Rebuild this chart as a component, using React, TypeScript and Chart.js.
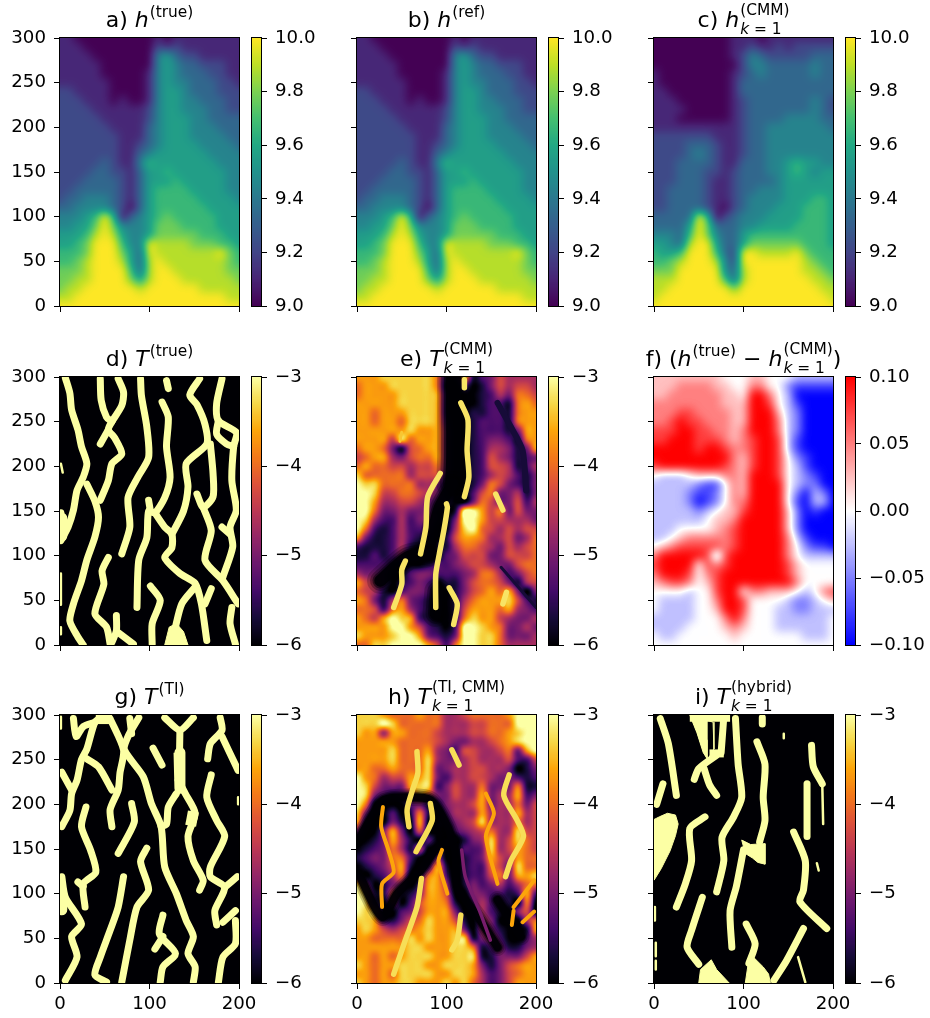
import React, { useEffect, useRef } from "react";
import Chart from "chart.js/auto";

// ---------- fields: rows run from y=300 down to y=0, columns x=0..200, every 10 units ----------
const H_TRUE_ROWS = [
"1 1 0 0 0 0 0 0 0 0 0 1 0 1 1 1 1 1 1 1 1",
"1 1 1 0 0 0 0 0 0 0 0 2 1 2 1 1 1 1 1 1 1",
"1 1 1 1 0 0 0 0 0 0 0 4 5 3 2 2 1 1 1 1 1",
"1 1 1 1 1 0 0 0 0 0 0 4 5 4 3 3 2 2 2 1 1",
"1 1 1 1 1 0 0 0 0 0 1 4 5 4 3 3 3 2 2 1 1",
"1 1 1 1 1 1 0 0 0 0 1 4 5 4 4 3 3 3 2 2 1",
"2 2 1 1 1 1 0 0 0 0 1 4 5 5 4 3 3 3 2 2 2",
"2 2 2 1 1 1 0 1 0 0 1 4 5 5 4 4 3 3 3 2 2",
"2 2 2 2 1 1 1 1 1 1 2 4 5 5 4 4 4 3 3 2 2",
"2 2 2 2 2 1 1 1 1 1 2 4 5 5 5 4 4 3 3 3 3",
"2 2 2 2 2 2 1 1 1 1 3 4 5 5 5 4 4 4 3 3 3",
"2 2 2 2 2 2 2 1 1 1 3 4 5 5 5 4 4 4 4 3 3",
"2 2 2 2 2 2 2 1 1 2 3 4 5 5 5 5 4 4 4 4 3",
"2 2 2 2 2 2 2 1 1 3 4 5 5 5 5 5 5 4 4 4 4",
"2 2 2 2 2 3 2 1 1 4 6 5 5 5 5 5 5 5 4 4 4",
"2 2 2 2 3 3 2 2 1 3 5 5 6 5 5 5 5 5 5 4 4",
"2 2 2 3 3 3 3 2 1 3 5 5 5 6 5 5 5 5 5 4 4",
"2 2 3 3 3 3 3 2 1 3 5 6 6 6 6 5 5 5 5 4 4",
"2 3 3 4 4 4 3 2 1 3 5 6 6 6 6 6 5 5 5 5 4",
"3 3 4 4 4 4 3 2 0 3 5 6 6 6 6 6 6 5 5 5 5",
"4 4 4 5 6 9 6 0 3 4 5 6 7 6 6 6 6 6 5 5 5",
"4 4 5 5 7 9 7 4 4 4 5 7 7 7 6 6 6 6 5 5 5",
"5 5 5 6 8 9 8 5 4 4 5 7 7 7 7 7 6 6 6 5 5",
"5 5 6 7 9 9 9 6 4 4 9 8 8 8 8 7 7 7 6 6 5",
"6 6 6 7 9 9 9 7 5 3 9 8 8 8 8 8 8 8 9 7 6",
"6 6 7 8 9 9 9 8 5 3 8 9 8 8 8 8 8 8 8 7 6",
"7 7 7 8 9 9 9 9 6 3 8 9 9 8 8 8 8 8 8 7 7",
"7 7 8 8 9 9 9 9 7 5 8 9 9 9 8 8 8 8 8 8 7",
"7 8 8 9 9 9 9 9 9 8 9 9 9 9 9 9 8 8 8 8 8",
"8 8 9 9 9 9 9 9 9 9 9 9 9 9 9 9 9 9 9 8 8",
"9 9 9 9 9 9 9 9 9 9 9 9 9 9 9 9 9 9 9 9 9",
];
const H_REF_ROWS = H_TRUE_ROWS;
const H_CMM_ROWS = [
"0 0 0 0 0 0 0 0 0 1 1 1 0 1 1 1 1 1 1 1 1",
"0 0 0 0 0 0 0 0 0 1 1 2 1 1 2 1 2 2 2 2 2",
"0 0 0 0 0 0 0 0 0 1 2 4 3 2 2 2 2 2 3 3 3",
"0 0 0 0 0 0 0 0 0 0 2 4 4 3 3 3 3 3 4 3 3",
"1 0 0 0 0 0 0 0 0 1 2 3 4 3 3 3 3 3 4 3 3",
"1 0 0 0 0 0 0 0 0 1 3 3 3 3 3 3 3 3 3 3 3",
"1 1 0 0 0 0 0 0 0 1 3 3 3 3 3 3 3 3 3 3 3",
"1 1 1 0 0 0 0 0 0 1 2 3 3 3 3 3 3 3 4 3 2",
"1 1 1 1 0 0 0 0 0 1 2 3 3 3 3 3 3 3 4 3 2",
"1 1 1 0 0 0 0 0 0 1 2 3 3 3 3 4 4 4 4 3 3",
"1 1 1 1 1 1 1 1 1 1 2 3 3 4 4 4 4 4 4 4 3",
"2 2 2 2 2 2 2 1 1 1 2 3 3 4 4 4 4 4 4 4 4",
"2 2 2 2 3 3 3 2 1 1 2 3 3 4 4 4 4 4 4 4 4",
"2 2 2 2 3 4 3 2 1 1 2 3 3 4 4 4 4 4 4 4 4",
"2 2 2 3 3 3 3 2 1 1 3 3 3 4 4 5 6 5 5 4 4",
"2 2 2 3 3 3 2 2 1 2 3 3 3 4 4 5 6 5 4 5 5",
"2 2 2 3 3 3 2 1 1 2 3 3 3 3 4 5 5 5 5 5 5",
"2 2 3 3 3 3 2 1 1 2 3 3 4 4 4 5 5 5 5 5 5",
"2 2 3 3 3 3 2 1 1 2 3 4 4 4 4 5 5 5 6 6 5",
"2 2 3 3 3 3 2 1 0 2 3 4 4 4 5 5 5 6 6 6 5",
"3 3 3 3 3 9 6 0 2 3 4 4 4 5 5 5 5 6 6 6 5",
"3 3 3 3 5 9 7 3 3 3 4 4 5 5 5 5 6 6 6 6 5",
"4 4 4 3 6 9 7 4 3 3 5 6 6 6 6 6 6 6 6 6 5",
"5 5 4 3 8 9 9 5 3 3 5 7 7 7 7 7 7 6 6 6 5",
"6 5 5 6 9 9 9 6 3 2 9 9 8 8 8 8 9 7 6 6 6",
"6 6 7 8 9 9 9 8 4 2 9 9 9 9 9 9 9 8 7 6 6",
"7 7 7 9 9 9 9 9 4 3 8 9 9 9 9 9 9 8 8 7 6",
"8 8 8 9 9 9 9 9 6 3 8 9 9 9 9 9 9 9 8 8 7",
"8 8 9 9 9 9 9 9 9 7 9 9 9 9 9 9 9 9 9 8 8",
"8 9 9 9 9 9 9 9 9 9 9 9 9 9 9 9 9 9 9 9 8",
"9 9 9 9 9 9 9 9 9 9 9 9 9 9 9 9 9 9 9 9 9",
];
const T_CMM_ROWS = [
"7 7 7 8 8 8 8 8 8 6 1 1 8 1 2 3 5 4 4 4 4",
"6 7 7 7 8 8 8 8 8 6 0 0 2 0 1 3 5 4 5 5 4",
"6 7 7 7 7 8 8 8 8 7 1 0 0 0 1 2 4 3 6 6 5",
"7 7 7 7 7 8 8 8 8 7 1 0 0 0 1 2 2 1 6 7 6",
"7 7 6 7 7 7 8 8 8 7 1 0 0 1 1 2 2 1 6 7 7",
"7 7 6 7 7 6 8 8 8 7 2 0 0 1 2 2 2 1 6 7 7",
"7 7 7 7 7 7 8 7 7 7 3 0 0 1 2 2 2 1 3 7 7",
"7 7 7 7 5 8 6 7 7 7 3 0 0 1 2 3 3 2 1 6 7",
"6 7 7 6 3 1 5 6 7 7 3 0 0 1 2 4 4 3 1 3 7",
"5 6 7 7 4 3 5 6 6 7 3 0 0 1 2 5 4 3 1 2 3",
"6 7 6 6 5 5 4 5 5 6 3 0 0 1 2 5 5 4 1 2 4",
"8 6 6 6 6 6 4 5 5 5 2 0 0 1 2 4 5 4 2 1 3",
"9 8 8 6 6 6 6 4 4 3 1 0 0 1 3 6 5 3 2 1 3",
"9 9 8 5 5 6 6 5 4 3 1 0 0 2 5 6 3 3 4 1 3",
"9 9 7 4 4 5 5 4 3 2 1 0 0 3 6 5 3 3 5 2 4",
"9 9 6 3 3 4 3 3 3 1 0 1 9 9 7 5 6 3 5 3 3",
"9 8 4 2 2 4 2 3 3 1 0 3 9 9 7 5 5 4 4 4 3",
"9 6 2 1 2 4 2 2 2 0 0 4 8 9 6 5 4 5 4 5 5",
"7 3 1 1 2 4 2 1 1 0 1 5 7 7 6 4 4 5 3 4 6",
"2 1 1 1 2 4 1 0 0 1 1 4 6 6 5 4 3 5 4 5 6",
"1 1 2 1 2 3 0 0 0 0 2 3 5 5 5 3 3 5 5 5 6",
"2 2 2 2 1 0 0 0 1 2 2 3 4 5 5 4 3 3 5 6 6",
"4 3 3 2 0 0 2 3 3 2 2 2 3 4 6 6 4 2 3 5 6",
"7 5 4 2 0 1 2 3 2 0 1 1 3 5 6 6 5 3 1 4 5",
"6 5 4 1 0 2 3 3 2 0 0 1 3 5 6 7 6 7 3 0 3",
"7 6 3 1 4 6 3 2 1 0 0 1 4 6 7 7 7 8 5 2 1",
"6 6 5 2 6 7 4 2 1 0 0 1 5 7 7 7 6 7 4 3 2",
"7 6 5 7 9 8 7 2 1 0 0 1 6 8 7 7 5 4 3 3 4",
"7 7 7 7 9 9 7 5 2 1 0 2 9 9 8 7 6 3 3 4 3",
"8 7 7 7 8 9 9 7 3 2 1 3 9 9 8 8 6 3 3 3 4",
"6 6 8 8 9 9 9 9 7 5 2 6 9 9 8 8 6 4 4 4 4",
];
const H_DIFF_ROWS = [
"5 5 5 5 5 5 5 5 4 4 4 5 5 4 4 4 3 3 3 3 3",
"5 5 5 6 6 6 6 5 5 4 4 6 6 4 4 2 1 1 1 1 1",
"5 5 6 6 6 6 6 6 5 5 4 8 8 6 4 3 0 0 0 0 0",
"6 6 6 6 6 6 6 6 5 5 5 8 8 7 4 3 1 0 0 0 0",
"6 6 6 7 7 6 6 6 6 5 5 8 8 8 5 3 2 0 0 0 0",
"6 6 7 8 7 7 6 6 6 5 5 8 8 8 6 3 2 0 0 0 0",
"7 7 7 8 8 7 7 6 6 5 6 8 8 8 6 3 2 0 0 0 0",
"7 7 8 8 8 7 7 7 6 5 6 7 8 8 7 3 1 0 0 0 0",
"8 8 8 8 8 7 8 8 7 6 6 7 8 8 7 3 1 0 0 0 0",
"8 8 8 8 8 8 8 8 8 6 5 7 8 8 7 4 2 1 0 0 0",
"7 8 8 8 8 8 8 8 7 6 5 7 8 8 7 4 3 1 0 0 0",
"4 3 3 3 4 5 5 5 6 6 5 8 8 8 7 4 3 2 1 0 0",
"3 3 3 3 3 2 1 1 4 6 5 8 8 8 8 4 3 2 2 0 0",
"3 3 3 3 2 1 1 2 4 6 5 8 8 8 8 4 2 0 3 2 0",
"3 3 3 3 2 0 1 2 4 6 6 8 8 8 8 4 1 0 3 3 0",
"3 3 3 3 3 2 3 4 5 5 7 8 8 8 8 5 2 0 1 0 0",
"3 3 3 3 3 3 4 5 5 6 8 8 8 8 8 5 2 0 0 0 0",
"3 3 3 4 4 4 4 5 6 7 8 8 8 8 8 5 2 0 0 0 0",
"3 3 4 5 6 6 6 6 6 7 8 8 8 8 8 6 3 1 0 0 0",
"4 5 6 7 7 7 7 7 6 7 8 8 8 8 8 6 4 2 1 1 0",
"6 8 8 8 8 8 7 2 7 8 8 8 8 8 8 6 4 3 3 3 3",
"7 8 8 8 8 4 7 6 7 8 8 8 8 8 8 7 5 4 4 4 4",
"6 8 8 8 7 4 6 7 8 8 8 8 8 8 8 7 5 4 4 4 4",
"5 6 7 7 6 4 5 7 8 8 8 8 8 8 8 8 6 4 4 4 4",
"4 4 4 4 3 4 4 7 8 8 4 6 6 5 5 5 4 3 4 6 7",
"4 3 3 3 3 4 4 6 8 8 7 4 4 4 4 3 2 2 3 4 5",
"4 3 3 3 3 4 4 5 8 8 7 4 4 4 3 3 2 2 3 3 3",
"3 3 3 3 3 4 4 4 6 8 6 4 4 4 3 3 3 3 3 3 4",
"3 3 3 3 4 4 4 4 5 6 5 4 4 4 3 3 3 3 3 3 4",
"4 3 3 4 4 4 4 4 4 5 4 4 4 4 4 4 4 3 3 3 4",
"4 4 4 4 4 4 4 4 4 4 4 4 4 4 4 4 4 4 4 4 4",
];
const T_TI_CMM_ROWS = [
"8 8 8 7 6 6 6 7 6 6 4 4 5 6 6 6 6 7 9 9 9",
"8 8 8 9 8 6 6 6 6 6 4 4 4 5 5 6 6 6 9 9 9",
"8 7 7 4 7 7 6 6 6 5 4 4 4 5 5 6 6 7 8 9 9",
"7 7 7 7 7 6 6 6 6 5 4 3 3 4 4 5 6 7 8 9 9",
"7 7 7 7 8 6 6 6 7 4 3 2 5 5 4 4 5 6 3 7 9",
"7 7 7 7 8 6 6 6 8 4 3 3 4 5 4 4 4 5 2 2 5",
"7 7 6 6 7 6 6 6 8 3 3 4 4 5 5 4 4 3 0 1 3",
"9 7 6 4 5 5 7 7 8 3 2 4 4 5 5 4 3 3 2 1 2",
"9 8 5 3 3 3 7 8 8 2 3 5 4 4 6 3 3 3 6 1 1",
"9 8 3 2 1 2 4 7 5 3 3 5 4 4 7 3 4 4 7 2 3",
"9 6 0 0 0 0 2 3 1 1 3 4 4 5 7 3 4 4 6 3 5",
"8 3 0 0 2 0 1 6 1 0 2 4 4 4 7 4 4 4 7 4 5",
"7 1 0 0 3 1 0 7 0 0 1 3 4 5 8 4 4 4 6 4 5",
"3 0 0 3 7 3 0 5 0 0 0 2 3 4 5 6 4 4 8 5 5",
"0 0 1 3 7 4 1 0 2 0 0 0 1 3 4 8 4 5 8 6 5",
"0 1 2 3 6 4 1 4 0 1 0 0 2 2 3 8 4 5 7 6 5",
"1 2 3 3 6 6 2 0 0 3 0 0 1 2 3 7 5 4 7 6 6",
"0 1 2 3 5 7 1 0 2 7 1 0 1 2 2 6 5 3 8 6 6",
"2 0 1 2 4 6 0 1 6 7 2 0 1 2 2 5 6 3 7 7 8",
"8 4 0 1 3 3 0 2 7 7 4 0 1 3 2 3 4 2 4 6 6",
"9 7 1 1 5 1 1 3 7 7 5 0 0 3 3 2 2 1 2 7 2",
"9 8 2 0 4 0 2 5 7 7 6 1 0 2 4 2 1 1 0 6 0",
"9 8 7 0 0 2 3 5 7 7 7 3 0 1 4 2 1 0 3 5 0",
"8 8 7 2 1 3 5 6 8 7 7 5 1 0 4 3 0 0 0 4 6",
"7 8 7 5 4 5 6 7 8 7 7 7 3 0 4 3 1 0 0 1 7",
"7 7 6 6 6 6 8 7 8 7 7 8 8 1 3 4 2 0 0 2 4",
"7 7 7 7 7 7 8 8 7 7 7 8 8 6 1 2 3 1 1 3 4",
"7 7 6 7 6 7 8 8 8 7 7 8 8 8 1 1 3 3 3 5 7",
"8 7 6 7 7 8 8 8 7 7 8 8 8 7 3 1 3 5 6 7 7",
"7 7 6 7 6 8 8 8 8 7 7 8 8 7 4 2 3 5 6 7 7",
"8 7 6 7 7 8 8 7 7 7 8 7 8 6 4 2 3 5 7 7 7",
];

// ---------- channels, polylines of [x, y] ----------
const D_MAIN = [
[[6,299],[11,282],[13,263],[20,241],[24,222],[30,203],[26,188],[19,173],[15,151],[9,132],[1,117]],
[[1,148],[3,135],[1,120]],
[[30,180],[39,161],[43,143],[39,121],[30,95],[24,72],[15,46],[11,27],[20,9],[26,0]],
[[45,162],[54,184],[58,203],[69,214],[61,232],[54,241],[58,250],[69,268],[71,283],[65,298]],
[[45,298],[46,274],[52,255],[58,250]],
[[54,241],[45,225]],
[[90,298],[91,279],[97,244],[99,210],[87,188],[76,165],[78,132],[69,102]],
[[114,272],[121,255],[119,222],[123,188],[117,165],[106,148],[99,150],[97,120],[88,95],[86,42]],
[[99,162],[101,150]],
[[119,296],[121,287]],
[[106,148],[117,132],[125,124],[125,109],[117,98],[134,80],[151,69],[158,46],[164,5]],
[[151,65],[136,46],[128,16]],
[[169,63],[162,46]],
[[125,124],[138,150],[143,177],[141,203],[164,225],[162,247],[153,269],[145,280],[156,298]],
[[168,225],[171,192],[171,166],[160,154],[153,169]],
[[160,154],[169,128],[162,95],[182,72],[199,46]],
[[181,298],[175,270],[177,251],[197,238],[194,222],[192,184],[197,151],[190,132],[193,110],[182,76]],
[[181,132],[190,124]],
[[177,251],[175,236],[186,225],[194,222]],
[[54,98],[47,83],[49,68],[39,35],[52,20],[56,1]],
[[63,33],[63,16],[58,3]],
[[65,14],[82,1]],
[[101,66],[112,50],[103,24],[103,1]],
[[192,42],[190,24],[196,1]],
];
const D_BASE_UPPER = [[117,0],[122,20],[130,24],[138,15],[143,0]];
const D_BASE_LOWER = [[117,0],[143,0]];
const D_WIDE = [[[2,142],[2,122]]];
const D_THIN = [[[1,203],[3,193]], [[1,20],[1,12]], [[1,80],[1,45]]];

const G_MAIN = [
[[15,296],[18,276],[26,287],[39,292]],
[[47,298],[39,292],[30,262],[24,250],[19,227],[13,212],[11,193],[2,175]],
[[56,296],[71,261],[67,235],[65,216],[56,194],[58,175]],
[[30,251],[43,242],[58,216]],
[[2,236],[13,216]],
[[88,297],[76,276],[72,261],[93,231],[102,201],[113,175],[117,130],[130,100],[141,70],[149,52],[143,33],[151,18],[149,1]],
[[78,296],[80,279]],
[[104,263],[114,244]],
[[117,297],[134,283],[149,297]],
[[134,283],[133,227]],
[[132,227],[140,212],[151,190],[143,164],[149,137],[160,115],[156,104]],
[[130,212],[121,197],[119,178],[113,175]],
[[179,297],[181,283],[168,268],[165,251]],
[[181,276],[199,238]],
[[169,233],[164,208],[175,182],[184,164],[168,130],[168,119],[184,107],[173,81],[175,65]],
[[184,107],[198,119]],
[[182,68],[196,81]],
[[196,70],[196,44],[182,29],[177,1]],
[[29,197],[24,175],[34,149],[40,124],[26,111],[28,85]],
[[20,113],[26,108]],
[[80,201],[83,180],[65,145]],
[[97,151],[90,136],[99,104],[86,85],[78,48],[69,1]],
[[71,119],[65,85],[56,59],[45,29],[39,9],[52,1]],
[[2,119],[6,96],[24,66],[13,52],[19,29],[6,3]],
[[115,76],[111,55],[129,33],[115,18],[112,1]],
[[106,38],[115,52]],
];
const G_WIDE = [[[40,296],[58,296]], [[133,258],[134,218]], [[149,192],[146,176]], [[2,100],[2,82]]];
const G_THIN = [[[1,298],[1,285]], [[199,208],[199,200]]];

const I_MAIN = [
[[7,296],[16,268],[25,210]],
[[78,298],[75,258]],
[[70,255],[50,240],[45,228]],
[[56,240],[62,222],[70,210]],
[[91,296],[94,245],[98,208],[89,186],[76,163],[78,137],[70,102]],
[[115,270],[124,245],[122,208],[124,182],[118,158]],
[[100,149],[92,108],[85,81],[87,40]],
[[176,266],[178,242],[188,223]],
[[171,223],[171,164]],
[[156,169],[169,137],[167,104],[163,91],[193,61]],
[[57,186],[40,173],[42,137],[35,111],[25,85]],
[[10,223],[3,200]],
[[54,96],[42,59],[37,40],[50,21]],
[[103,66],[113,44],[106,22]],
[[134,3],[148,25],[167,61]],
[[121,297],[121,290]],
];
const I_WIDE = [[[40,297],[85,297]], [[62,257],[78,257]]];
const I_THIN = [
[[188,223],[189,178]], [[161,29],[169,1]], [[145,279],[145,274]], [[182,134],[184,126]],
[[1,85],[1,70]], [[2,45],[2,30]], [[2,25],[2,15]],
];
const I_BLOB_UPPER = [[0,183],[6,186],[15,190],[24,188],[27,178]];
const I_BLOB_LOWER = [[0,115],[8,128],[18,148],[24,165],[27,178]];
const I_LEG_UPPER = [[40,300],[66,292],[67,262],[60,250]];
const I_LEG_LOWER = [[40,300],[48,280],[55,258],[60,250]];
const I_BLOCK_UPPER = [[98,160],[108,155],[124,156],[124,133]];
const I_BLOCK_LOWER = [[98,160],[102,145],[110,140],[116,135],[124,133]];
const I_BASE_A_UPPER = [[50,0],[52,15],[64,26],[70,15],[84,0]];
const I_BASE_A_LOWER = [[50,0],[84,0]];
const I_BASE_B_UPPER = [[102,0],[105,20],[112,28],[122,18],[128,10],[130,0]];
const I_BASE_B_LOWER = [[102,0],[130,0]];

const E_BLACK_TOP = [[[108,298],[108,248],[108,211],[107,181]]];
const E_BLACK_MID = [[[107,181],[92,154],[84,124],[80,102]]];
const E_BLACK_LOW = [[[80,102],[56,98],[26,72]], [[90,60],[88,35]]];
const E_PALE = [
[[116,271],[124,252],[123,218],[125,188],[120,166]],
[[100,158],[101,154],[97,128],[92,102],[88,79],[88,42]],
[[93,192],[79,166],[77,132],[71,102]],
[[54,94],[50,84],[50,68],[41,42]],
[[103,64],[112,46],[108,23]],
[[155,169],[163,151]],
[[167,59],[163,46]],
[[120,297],[120,288]],
];
const E_TIP = [[[48,228],[50,238]]];
const E_DARK = [[[157,271],[172,244],[185,218],[189,173]]];
const E_DARK_THIN = [[[161,87],[200,42]]];

const HT_BLACK = [
[[4,164],[19,190],[30,205],[56,208],[82,205],[101,175],[110,145],[112,108],[138,70],[157,40]],
[[2,122],[28,74],[45,100],[71,126],[90,152],[108,160]],
[[157,93],[183,52]],
];
const HT_PALE = [
[[67,259],[68,235],[62,216],[56,194],[58,175]],
[[82,201],[84,182],[66,147]],
[[72,117],[67,85],[54,48],[41,10]],
[[116,76],[112,48],[106,37]],
[[106,261],[114,244]],
[[170,233],[164,210],[179,182],[186,164],[172,137],[166,119]],
];
const HT_ORANGE = [
[[29,197],[27,175],[35,149],[41,124],[28,111],[28,85]],
[[95,149],[91,136],[101,100]],
[[144,212],[153,190],[144,164],[157,111]],
[[175,81],[173,65]],
[[198,115],[175,85]],
[[185,68],[198,80]],
];
const HT_PURPLE = [[[117,149],[121,119],[138,78],[149,48]]];

// ---------- text and ticks ----------
const TITLES = [
  [["a) ","r"],["h","i"],["(true)","sup"]],
  [["b) ","r"],["h","i"],["(ref)","sup"]],
  [["c) ","r"],["h","i"],["(CMM)","sup"],["k","subi"],[" = 1","sub"]],
  [["d) ","r"],["T","i"],["(true)","sup"]],
  [["e) ","r"],["T","i"],["(CMM)","sup"],["k","subi"],[" = 1","sub"]],
  [["f) (","r"],["h","i"],["(true)","sup"],[" \u2212 ","r"],["h","i"],["(CMM)","sup"],["k","subi"],[" = 1","sub"],[")","r"]],
  [["g) ","r"],["T","i"],["(TI)","sup"]],
  [["h) ","r"],["T","i"],["(TI, CMM)","sup"],["k","subi"],[" = 1","sub"]],
  [["i) ","r"],["T","i"],["(hybrid)","sup"],["k","subi"],[" = 1","sub"]],
];
const H_TICKS = { min: 9, max: 10, step: 0.2, digits: 1 };
const T_TICKS = { min: -6, max: -3, step: 1, digits: 0 };
const D_TICKS = { min: -0.1, max: 0.1, step: 0.05, digits: 2 };

// ---------- colour maps ----------
const VIRIDIS = ["#440154","#482475","#414487","#355f8d","#2a788e","#21918c","#22a884","#44bf70","#7ad151","#bddf26","#fde725"];
const INFERNO = ["#000004","#160b39","#420a68","#6a176e","#932667","#bb3754","#dd513a","#f37819","#fca50a","#f6d746","#fcffa4"];
const BWR = ["#0000ff","#ffffff","#ff0000"];
const hex = (s: string) => [1, 3, 5].map((i) => parseInt(s.slice(i, i + 2), 16));
const makeLut = (stops: string[]) => {
  const rgb = stops.map(hex);
  const lut: number[][] = [];
  for (let i = 0; i < 256; i++) {
    const t = (i / 255) * (rgb.length - 1);
    const a = Math.min(Math.floor(t), rgb.length - 2);
    const f = t - a;
    lut.push([0, 1, 2].map((k) => Math.round(rgb[a][k] + (rgb[a + 1][k] - rgb[a][k]) * f)));
  }
  return lut;
};
const LUTS: Record<string, number[][]> = { viridis: makeLut(VIRIDIS), inferno: makeLut(INFERNO), bwr: makeLut(BWR) };
const lutAt = (lut: number[][], v: number, min: number, max: number) =>
  lut[Math.max(0, Math.min(255, Math.round(((v - min) / (max - min)) * 255)))];
const tColor = (v: number) => {
  const c = lutAt(LUTS.inferno, v, -6, -3);
  return `rgb(${c[0]},${c[1]},${c[2]})`;
};

// ---------- layout ----------
const COL_X = [60, 357, 654];
const ROW_Y = [38, 377, 715];
const PLOT_W = 179;
const PLOT_H = 268;
const CB_OFFSET = 192;
const CB_W = 9;
const FONT = "DejaVu Sans";
const TICK_FONT = 18.2;
const TITLE_FONT = 22;

const COLS = 21;
const ROWS = 31;
const fieldPoints = (rows: string[], min: number, max: number, top: number) => {
  const pts: { x: number; y: number; v: number }[] = [];
  rows.forEach((row, r) => {
    const cells = row.split(" ");
    for (let c = 0; c < COLS; c++) {
      const n = Number(cells[c] ?? cells[cells.length - 1]);
      pts.push({ x: c * 10, y: 300 - r * 10, v: min + ((max - min) * n) / top });
    }
  });
  return pts;
};
const lineSet = (lines: number[][][], width: number, color: string, tension = 0.25, cap = "round") =>
  lines.map((l) => ({
    type: "scatter",
    showLine: true,
    data: l.map(([x, y]) => ({ x, y })),
    borderColor: color,
    backgroundColor: color,
    borderWidth: width,
    borderCapStyle: cap,
    borderJoinStyle: "round",
    pointRadius: 0,
    tension,
    clip: 0,
  }));
const softSet = (lines: number[][][], width: number) => [
  ...lineSet(lines, width * 2.2, "rgba(0,0,4,0.2)"),
  ...lineSet(lines, width * 1.7, "rgba(0,0,4,0.3)"),
  ...lineSet(lines, width * 1.3, "rgba(0,0,4,0.5)"),
  ...lineSet(lines, width, "rgba(0,0,4,0.9)"),
];
const blobSet = (upper: number[][], lower: number[][], color: string) => [
  {
    type: "scatter", showLine: true, data: upper.map(([x, y]) => ({ x, y })), fill: "+1",
    backgroundColor: color, borderColor: color, borderWidth: 1, pointRadius: 0, clip: 0,
  },
  {
    type: "scatter", showLine: true, data: lower.map(([x, y]) => ({ x, y })),
    backgroundColor: color, borderColor: color, borderWidth: 1, pointRadius: 0, clip: 0,
  },
];
const fieldSet = (rows: string[], min: number, max: number, top = 9) => [
  { label: "field", isField: true, data: fieldPoints(rows, min, max, top), pointRadius: 0, showLine: false },
];

const PALE = tColor(-3);
const PANELS = [
  { cmap: "viridis", range: H_TICKS, sharp: false, sets: fieldSet(H_TRUE_ROWS, 9, 10) },
  { cmap: "viridis", range: H_TICKS, sharp: false, sets: fieldSet(H_REF_ROWS, 9, 10) },
  { cmap: "viridis", range: H_TICKS, sharp: false, sets: fieldSet(H_CMM_ROWS, 9, 10) },
  {
    cmap: "inferno", range: T_TICKS, sharp: true,
    sets: [
      ...blobSet(D_BASE_UPPER, D_BASE_LOWER, PALE),
      ...lineSet(D_MAIN, 7, PALE),
      ...lineSet(D_WIDE, 11, PALE, 0, "butt"),
      ...lineSet(D_THIN, 2.5, PALE, 0),
    ],
  },
  {
    cmap: "inferno", range: T_TICKS, sharp: true,
    sets: [
      ...fieldSet(T_CMM_ROWS, -6, -3),
      ...softSet(E_BLACK_TOP, 15),
      ...softSet(E_BLACK_MID, 11),
      ...softSet(E_BLACK_LOW, 12),
      ...lineSet(E_DARK, 6, tColor(-5.7)),
      ...lineSet(E_DARK_THIN, 3, tColor(-5.7), 0),
      ...lineSet(E_PALE, 5.5, tColor(-3.2)),
      ...lineSet(E_TIP, 3, tColor(-3.4), 0),
    ],
  },
  { cmap: "bwr", range: D_TICKS, sharp: false, sets: fieldSet(H_DIFF_ROWS, -0.1, 0.1, 8) },
  {
    cmap: "inferno", range: T_TICKS, sharp: true,
    sets: [...lineSet(G_MAIN, 7, PALE), ...lineSet(G_WIDE, 11, PALE, 0, "butt"), ...lineSet(G_THIN, 2.5, PALE, 0)],
  },
  {
    cmap: "inferno", range: T_TICKS, sharp: true,
    sets: [
      ...fieldSet(T_TI_CMM_ROWS, -6, -3),
      ...softSet(HT_BLACK, 8),
      ...lineSet(HT_PURPLE, 3.5, tColor(-5)),
      ...lineSet(HT_ORANGE, 4, tColor(-3.6)),
      ...lineSet(HT_PALE, 5.5, tColor(-3.25)),
    ],
  },
  {
    cmap: "inferno", range: T_TICKS, sharp: true,
    sets: [
      ...blobSet(I_BLOB_UPPER, I_BLOB_LOWER, PALE),
      ...blobSet(I_LEG_UPPER, I_LEG_LOWER, PALE),
      ...blobSet(I_BLOCK_UPPER, I_BLOCK_LOWER, PALE),
      ...blobSet(I_BASE_A_UPPER, I_BASE_A_LOWER, PALE),
      ...blobSet(I_BASE_B_UPPER, I_BASE_B_LOWER, PALE),
      ...lineSet(I_MAIN, 7, PALE),
      ...lineSet(I_WIDE, 8, PALE, 0, "butt"),
      ...lineSet(I_THIN, 2.5, PALE, 0),
    ],
  },
];

// ---------- plugins ----------
const bspline = (t: number) => {
  const t2 = t * t;
  const t3 = t2 * t;
  return [(1 - 3 * t + 3 * t2 - t3) / 6, (3 * t3 - 6 * t2 + 4) / 6, (-3 * t3 + 3 * t2 + 3 * t + 1) / 6, t3 / 6];
};
const catmull = (t: number) => {
  const t2 = t * t;
  const t3 = t2 * t;
  return [(-t3 + 2 * t2 - t) / 2, (3 * t3 - 5 * t2 + 2) / 2, (-3 * t3 + 4 * t2 + t) / 2, (t3 - t2) / 2];
};
const heatPlugin = {
  id: "heat",
  beforeDatasetsDraw(chart: any, _a: any, opts: any) {
    const { left, right, top, bottom } = chart.chartArea;
    const ctx = chart.ctx;
    const lut = LUTS[opts.cmap];
    const w = Math.round(right - left);
    const h = Math.round(bottom - top);
    const field = chart.data.datasets.find((d: any) => d.isField);
    if (!field) {
      const c = lut[0];
      ctx.fillStyle = `rgb(${c[0]},${c[1]},${c[2]})`;
      ctx.fillRect(left, top, w, h);
      return;
    }
    const kernel = opts.sharp ? catmull : bspline;
    const { x: xs, y: ys } = chart.scales;
    const vals = field.data;
    const at = (r: number, c: number) =>
      vals[Math.max(0, Math.min(ROWS - 1, r)) * COLS + Math.max(0, Math.min(COLS - 1, c))].v;
    const img = ctx.createImageData(w, h);
    for (let py = 0; py < h; py++) {
      const gy = Math.max(0, Math.min(29.999, (300 - ys.getValueForPixel(top + py + 0.5)) / 10));
      const r0 = Math.floor(gy);
      const wy = kernel(gy - r0);
      for (let px = 0; px < w; px++) {
        const gx = Math.max(0, Math.min(19.999, xs.getValueForPixel(left + px + 0.5) / 10));
        const c0 = Math.floor(gx);
        const wx = kernel(gx - c0);
        let v = 0;
        for (let a = 0; a < 4; a++) {
          for (let b = 0; b < 4; b++) {
            v += wy[a] * wx[b] * at(r0 + a - 1, c0 + b - 1);
          }
        }
        const rgb = lutAt(lut, v, opts.min, opts.max);
        const i = (py * w + px) * 4;
        img.data[i] = rgb[0];
        img.data[i + 1] = rgb[1];
        img.data[i + 2] = rgb[2];
        img.data[i + 3] = 255;
      }
    }
    ctx.putImageData(img, left, top);
  },
};

const ramp = {
  id: "ramp",
  beforeDatasetsDraw(chart: any, _a: any, opts: any) {
    const { left, right, top, bottom } = chart.chartArea;
    const ctx = chart.ctx;
    const s = chart.scales.y;
    for (let py = Math.round(top); py < bottom; py++) {
      const c = lutAt(LUTS[opts.cmap], s.getValueForPixel(py + 0.5), opts.min, opts.max);
      ctx.fillStyle = `rgb(${c[0]},${c[1]},${c[2]})`;
      ctx.fillRect(left, py, right - left, 1);
    }
  },
};

const frame = {
  id: "frame",
  afterDraw(chart: any) {
    const { left, right, top, bottom } = chart.chartArea;
    const ctx = chart.ctx;
    ctx.save();
    ctx.strokeStyle = "#000";
    ctx.lineWidth = 1;
    ctx.strokeRect(left - 0.5, top - 0.5, right - left + 1, bottom - top + 1);
    ctx.restore();
  },
};

const titlePlugin = {
  id: "mathTitle",
  afterDraw(chart: any, _a: any, opts: any) {
    const ctx = chart.ctx;
    const { left, right, top } = chart.chartArea;
    const base = TITLE_FONT;
    const small = TITLE_FONT * 0.7;
    const fontOf = (k: string) => {
      if (k === "r") return `${base}px "${FONT}"`;
      if (k === "i") return `italic ${base}px "${FONT}"`;
      if (k === "subi") return `italic ${small}px "${FONT}"`;
      return `${small}px "${FONT}"`;
    };
    const layout = (draw: boolean, startX: number) => {
      let x = startX;
      let supStart = 0;
      let supEnd = 0;
      let inSub = false;
      opts.parts.forEach((p: string[], idx: number) => {
        const [text, kind] = p;
        ctx.font = fontOf(kind);
        let dy = 0;
        if (kind === "sup") {
          supStart = x + 1;
          x += 1;
          const next = opts.parts[idx + 1];
          dy = next && next[1] === "subi" ? -12 : -10.5;
        } else if (kind === "subi" || kind === "sub") {
          if (!inSub) {
            supEnd = x;
            x = supStart;
            inSub = true;
          }
          dy = 7;
        } else if (inSub) {
          x = Math.max(x, supEnd);
          inSub = false;
        }
        if (draw) ctx.fillText(text, x, top - 11 + dy);
        x += ctx.measureText(text).width;
      });
      if (inSub) x = Math.max(x, supEnd);
      return x;
    };
    ctx.save();
    ctx.fillStyle = "#000";
    ctx.textBaseline = "alphabetic";
    ctx.textAlign = "left";
    const width = layout(false, 0);
    layout(true, (left + right) / 2 - width / 2);
    ctx.restore();
  },
};

const numLabel = (digits: number) => (v: number) => {
  const s = Math.abs(v).toFixed(digits);
  return (v < -1e-9 ? "\u2212" : "") + s;
};

export default function App() {
  const host = useRef<HTMLDivElement>(null);
  useEffect(() => {
    const charts: Chart[] = [];
    const root = host.current!;
    const addCanvas = (x: number, y: number, w: number, h: number) => {
      const c = document.createElement("canvas");
      c.width = w;
      c.height = h;
      c.style.cssText = `position:absolute;left:${x}px;top:${y}px;width:${w}px;height:${h}px;`;
      root.appendChild(c);
      return c;
    };
    PANELS.forEach((p, i) => {
      const col = i % 3;
      const row = Math.floor(i / 3);
      const px = COL_X[col];
      const py = ROW_Y[row];
      const r = p.range;

      const canvas = addCanvas(px - 60, py - 38, 60 + PLOT_W + 40, 38 + PLOT_H + 34);
      charts.push(
        new Chart(canvas, {
          type: "scatter",
          // later entries are painted over earlier ones
          data: { datasets: (p.sets as any[]).map((d, k) => ({ ...d, order: -k })) as any },
          plugins: [heatPlugin, frame, titlePlugin],
          options: {
            responsive: false,
            animation: false,
            devicePixelRatio: 1,
            layout: { padding: { left: 0, top: 38, right: 40, bottom: 0 } },
            plugins: {
              legend: { display: false },
              tooltip: { enabled: false },
              heat: { cmap: p.cmap, min: r.min, max: r.max, sharp: p.sharp },
              mathTitle: { parts: TITLES[i] },
            } as any,
            scales: {
              x: {
                type: "linear", min: 0, max: 200,
                afterFit: (s: any) => { s.height = 34; },
                afterBuildTicks: (s: any) => { s.ticks = [0, 100, 200].map((value) => ({ value })); },
                grid: { drawOnChartArea: false, drawTicks: true, tickLength: 6, color: "#000" },
                border: { display: false },
                ticks: {
                  padding: 4, color: "#000", maxRotation: 0, autoSkip: false,
                  font: { family: FONT, size: TICK_FONT },
                  callback: (v: any) => (row === 2 ? String(v) : ""),
                },
              },
              y: {
                type: "linear", min: 0, max: 300,
                afterFit: (s: any) => { s.width = 60; },
                afterBuildTicks: (s: any) => { s.ticks = [0, 50, 100, 150, 200, 250, 300].map((value) => ({ value })); },
                grid: { drawOnChartArea: false, drawTicks: true, tickLength: 6, color: "#000" },
                border: { display: false },
                ticks: {
                  padding: 8, color: "#000", autoSkip: false,
                  font: { family: FONT, size: TICK_FONT },
                  callback: (v: any) => (col === 0 ? String(v) : ""),
                },
              },
            },
          } as any,
        })
      );

      const cb = addCanvas(px + CB_OFFSET - 10, py - 20, 10 + CB_W + 76, PLOT_H + 40);
      charts.push(
        new Chart(cb, {
          type: "scatter",
          data: { datasets: [] },
          plugins: [ramp, frame],
          options: {
            responsive: false,
            animation: false,
            devicePixelRatio: 1,
            layout: { padding: { left: 10, top: 20, right: 0, bottom: 20 } },
            plugins: {
              legend: { display: false },
              tooltip: { enabled: false },
              ramp: { cmap: p.cmap, min: r.min, max: r.max },
            } as any,
            scales: {
              x: { type: "linear", display: false, min: 0, max: 1 },
              y: {
                type: "linear", position: "right", min: r.min, max: r.max,
                afterFit: (s: any) => { s.width = 76; },
                afterBuildTicks: (s: any) => {
                  const n = Math.round((r.max - r.min) / r.step);
                  s.ticks = Array.from({ length: n + 1 }, (_, k) => ({ value: r.min + k * r.step }));
                },
                grid: { drawOnChartArea: false, drawTicks: true, tickLength: 6, color: "#000" },
                border: { display: false },
                ticks: {
                  padding: 8, color: "#000", autoSkip: false,
                  font: { family: FONT, size: TICK_FONT },
                  callback: (v: any) => numLabel(r.digits)(Number(v)),
                },
              },
            },
          } as any,
        })
      );
    });
    return () => {
      charts.forEach((c) => c.destroy());
      root.innerHTML = "";
    };
  }, []);
  return (
    <div
      ref={host}
      style={{ position: "absolute", left: 0, top: 0, width: 930, height: 1018, overflow: "hidden", background: "#fff" }}
    />
  );
}
